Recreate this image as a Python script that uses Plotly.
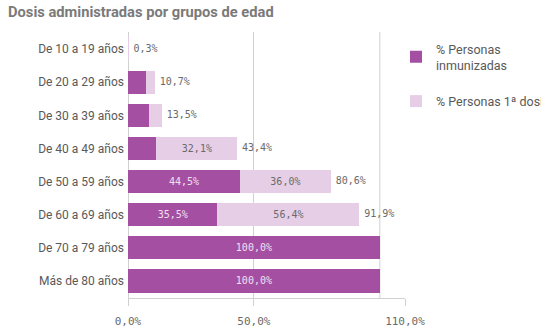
import plotly.graph_objects as go

categorias = ["De 10 a 19 años", "De 20 a 29 años", "De 30 a 39 años", "De 40 a 49 años",
              "De 50 a 59 años", "De 60 a 69 años", "De 70 a 79 años", "Más de 80 años"]
inmunizadas = [0.0, 7.1, 8.3, 11.3, 44.5, 35.5, 100.0, 100.0]
primera_dosis = [0.3, 3.6, 5.2, 32.1, 36.0, 56.4, 0.0, 0.0]
totales = [0.3, 10.7, 13.5, 43.4, 80.6, 91.9, None, None]
tick_vals = [0, 50, 110]
tick_text = ["0,0%", "50,0%", "110,0%"]

DARK = "#a54fa3"
LIGHT = "#e6cfe6"
MONO = "DejaVu Sans Mono"
SANS = "Roboto"

def fmt(v):
    return f"{v:.1f}%".replace(".", ",")

txt_dark = [fmt(v) if v >= 20 else "" for v in inmunizadas]
txt_light = [fmt(v) if v >= 20 else "" for v in primera_dosis]
txt_tot = [fmt(v) if v is not None else "" for v in totales]

fig = go.Figure()
fig.add_trace(go.Bar(
    y=categorias, x=inmunizadas, orientation="h", name="% Personas<br>inmunizadas",
    legendgroup="a",
    marker=dict(color=DARK, line=dict(width=0)),
    text=txt_dark, textposition="inside", insidetextanchor="middle", textangle=0,
    insidetextfont=dict(family=MONO, size=10, color="#f0e0f0"),
    constraintext="none", hoverinfo="skip"))
fig.add_trace(go.Bar(
    y=categorias, x=primera_dosis, orientation="h", name="% Personas 1ª dosis",
    legendgroup="b",
    marker=dict(color=LIGHT, line=dict(width=0)),
    text=txt_light, textposition="inside", insidetextanchor="middle", textangle=0,
    insidetextfont=dict(family=MONO, size=10, color="#6a6a6a"),
    constraintext="none", hoverinfo="skip"))
fig.add_trace(go.Scatter(
    y=categorias, x=[t if t is not None else 0 for t in totales], mode="markers+text",
    marker=dict(size=6, opacity=0),
    text=txt_tot, textposition="middle right",
    textfont=dict(family=MONO, size=10, color="#6a6a6a"),
    showlegend=False, hoverinfo="skip", cliponaxis=False))

fig.add_shape(type="line", xref="x", yref="paper", x0=100, x1=100, y0=0, y1=1,
              line=dict(color="#d0d0d0", width=1), layer="below")

fig.update_layout(
    width=541, height=336,
    margin=dict(l=128, r=136, t=32, b=38, autoexpand=False),
    paper_bgcolor="white", plot_bgcolor="white",
    barmode="stack", bargap=0.3,
    title=dict(text="<b>Dosis administradas por grupos de edad</b>",
               x=8/541, xanchor="left", xref="container",
               y=1-12/336, yanchor="middle", yref="container",
               font=dict(family="Roboto", size=14.7, color="#7a7a7a")),
    showlegend=True,
    legend=dict(x=(414-128-18)/277, xanchor="left", y=1-(34-32)/266, yanchor="top",
                traceorder="grouped", font=dict(family=SANS, size=12.5, color="#595959"),
                bgcolor="rgba(0,0,0,0)", itemwidth=30, tracegroupgap=17),
    xaxis=dict(range=[0, 110], tickvals=tick_vals, ticktext=tick_text,
               showgrid=True, gridcolor="#d0d0d0", gridwidth=1,
               zeroline=True, zerolinecolor="#d0d0d0", zerolinewidth=1,
               showline=True, linecolor="#d0d0d0", linewidth=1,
               ticks="outside", ticklen=7, tickcolor="#d0d0d0",
               ticklabelstandoff=6,
               tickfont=dict(family=MONO, size=11, color="#6a6a6a"),
               fixedrange=True),
    yaxis=dict(autorange="reversed", showgrid=False, zeroline=False, showline=False,
               ticks="", ticklabelstandoff=3,
               tickfont=dict(family=SANS, size=12, color="#595959"),
               fixedrange=True),
)

fig.write_html("out.html", config={"displayModeBar": False})
